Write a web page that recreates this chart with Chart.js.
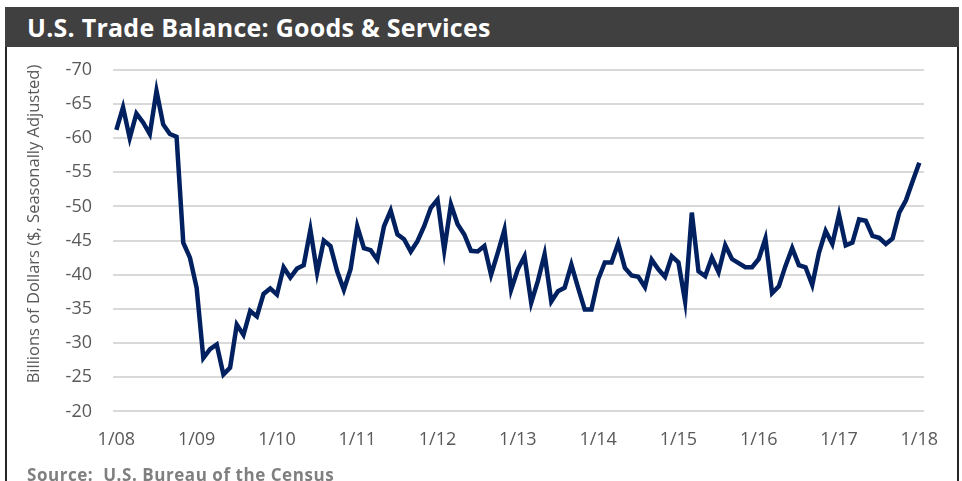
<!DOCTYPE html>
<html>
<head>
<meta charset="utf-8">
<script src="https://cdn.jsdelivr.net/npm/chart.js@4.4.1/dist/chart.umd.min.js"></script>
<style>
  html, body { margin: 0; padding: 0; background: #ffffff; }
  body { width: 962px; height: 481px; position: relative; overflow: hidden; font-family: 'Open Sans', sans-serif; }
  #frame { position: absolute; left: 5px; top: 7px; width: 950px; height: 480px; border: 2px solid #262626; border-top: none; }
  #title-bar { position: absolute; left: 5px; top: 7px; width: 954px; height: 40px; background: #404040; }
  #title-bar h1 { margin: 0; padding-left: 22px; line-height: 40px; font-size: 25px; font-weight: 700; color: #ffffff; letter-spacing: 0.25px; }
  #chart-box { position: absolute; left: 7px; top: 38px; width: 950px; height: 431px; }
  #y-title { position: absolute; left: -132px; top: 213px; width: 330px; height: 22px; line-height: 22px; text-align: center; white-space: nowrap; transform: rotate(-90deg); font-size: 16.5px; color: #595959; }
  #source { position: absolute; left: 27px; top: 463px; font-size: 17px; font-weight: 700; color: #7f7f7f; letter-spacing: 0.55px; }
</style>
</head>
<body>
<div id="frame"></div>
<div id="title-bar"><h1>U.S. Trade Balance: Goods &amp; Services</h1></div>
<div id="chart-box"><canvas id="trade-canvas"></canvas></div>
<div id="y-title">Billions of Dollars ($, Seasonally Adjusted)</div>
<div id="source">Source:&nbsp; U.S. Bureau of the Census</div>

<script>
// month index from 1/08 (0) to 1/18 (120)
var tickLabels = ['1/08', '1/09', '1/10', '1/11', '1/12', '1/13', '1/14', '1/15', '1/16', '1/17', '1/18'];
var tickMonths = [0, 12, 24, 36, 48, 60, 72, 84, 96, 108, 120];

// billions of dollars, seasonally adjusted
var tradeBalance = [
    -61.2, -64.5, -60.0, -63.6, -62.3, -60.6, -66.9, -62.0, -60.6, -60.2, -44.7, -42.5,
    -38.1, -27.8, -29.1, -29.8, -25.4, -26.4, -32.7, -31.2, -34.7, -33.9, -37.2, -38.0,
    -37.1, -41.1, -39.6, -40.9, -41.4, -46.6, -40.3, -45.0, -44.2, -40.5, -37.8, -40.8,
    -47.1, -43.9, -43.6, -42.2, -47.1, -49.4, -45.9, -45.2, -43.4, -44.9, -47.1, -49.8,
    -51.0, -43.6, -50.3, -47.4, -45.9, -43.5, -43.4, -44.2, -40.0, -43.2, -46.6, -37.8,
    -40.8, -42.7, -35.9, -39.1, -43.0, -36.1, -37.6, -38.1, -41.5, -38.1, -34.9, -34.9,
    -39.3, -41.8, -41.8, -44.6, -41.0, -39.9, -39.7, -38.2, -42.2, -40.8, -39.7, -42.7,
    -41.8, -36.1, -49.1, -40.5, -39.8, -42.5, -40.4, -44.3, -42.3, -41.7, -41.1, -41.1,
    -42.3, -45.3, -37.3, -38.3, -41.3, -43.9, -41.4, -41.1, -38.5, -43.2, -46.4, -44.5,
    -48.8, -44.3, -44.7, -48.1, -47.9, -45.7, -45.4, -44.5, -45.3, -49.1, -50.9, -53.7,
    -56.4
];

function plotarGrafico() {
    var ctx = document.getElementById('trade-canvas').getContext('2d');

    var pontos = tradeBalance.map(function (v, i) { return { x: i, y: v }; });

    new Chart(ctx, {
        type: 'line',
        data: {
            datasets: [
                {
                    label: 'Trade Balance',
                    data: pontos,
                    borderColor: '#002060',
                    backgroundColor: '#002060',
                    borderWidth: 4.5,
                    pointRadius: 0,
                    tension: 0,
                    fill: false
                }
            ]
        },
        options: {
            responsive: true,
            maintainAspectRatio: false,
            animation: false,
            layout: {
                padding: { left: 0, right: 33, top: 14, bottom: 0 }
            },
            scales: {
                x: {
                    type: 'linear',
                    min: -0.5,
                    max: 120.7,
                    afterBuildTicks: function (axis) {
                        axis.ticks = tickMonths.map(function (m) { return { value: m }; });
                    },
                    grid: { display: false, drawTicks: false },
                    border: { display: false },
                    ticks: {
                        autoSkip: false,
                        maxRotation: 0,
                        padding: 18,
                        color: '#595959',
                        font: { family: 'Open Sans', size: 18 },
                        callback: function (value) {
                            return tickLabels[tickMonths.indexOf(value)];
                        }
                    }
                },
                y: {
                    reverse: true,
                    min: -70,
                    max: -20,
                    // y title is drawn as html text at the left, keep the axis box fixed
                    afterFit: function (scale) { scale.width = 106; },
                    grid: { color: '#d9d9d9', lineWidth: 2, drawTicks: false },
                    border: { display: false },
                    ticks: {
                        stepSize: 5,
                        padding: 21,
                        color: '#595959',
                        font: { family: 'Open Sans', size: 18 }
                    }
                }
            },
            plugins: {
                legend: { display: false },
                tooltip: { enabled: false }
            }
        }
    });
}

plotarGrafico();
</script>
</body>
</html>
